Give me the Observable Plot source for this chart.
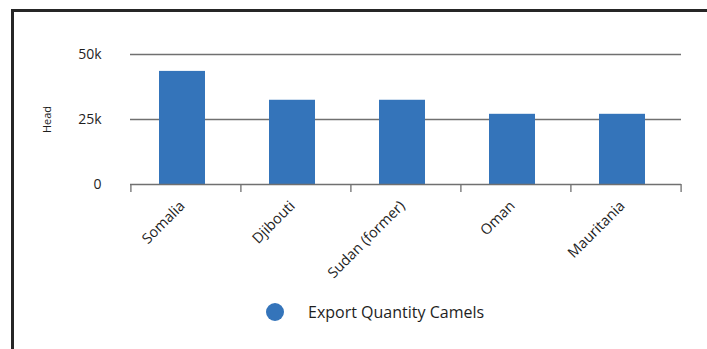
<!DOCTYPE html>
<html>
<head>
<meta charset="utf-8">
<script src="https://cdn.jsdelivr.net/npm/d3@7"></script>
<script src="https://cdn.jsdelivr.net/npm/@observablehq/plot@0.6"></script>
<style>
  html, body { margin: 0; padding: 0; background: #fff; }
  body { width: 707px; height: 349px; overflow: hidden; position: relative; font-family: "Open Sans", sans-serif; }
  #frame { position: absolute; left: 11px; top: 9px; width: 800px; height: 400px; border-left: 3px solid #262626; border-top: 3px solid #262626; box-sizing: border-box; pointer-events: none; }
  #chart { position: absolute; left: 0; top: 0; }
  #legend { position: absolute; left: 266px; top: 301px; display: flex; align-items: center; font-size: 16px; font-weight: 500; color: #1e1e1e; }
  #legend .sw { width: 18px; height: 18px; border-radius: 50%; background: #3474BA; margin-right: 24px; }
</style>
</head>
<body>
<div id="chart"></div>
<div id="legend"></div>
<div id="frame"></div>
<script>
const categories = ["Somalia", "Djibouti", "Sudan (former)", "Oman", "Mauritania"];
const values = [43500, 32400, 32400, 27000, 27000];
const yTicks = [0, 25000, 50000];
const yTickLabels = ["0", "25k", "50k"];
const seriesName = "Export Quantity Camels";
const yLabel = "Head";

const data = categories.map((c, i) => ({category: c, value: values[i]}));

const W = 707, H = 296, ML = 130, MR = 26, MT = 54, MB = 112;
const bw = (W - ML - MR) / categories.length;
const barColor = "#3474BA";
const gridColor = "#707070";

const plot = Plot.plot({
  width: W,
  height: H,
  marginLeft: ML,
  marginRight: MR,
  marginTop: MT,
  marginBottom: MB,
  style: {fontFamily: "Open Sans, sans-serif", color: "#1e1e1e", background: "transparent", fontWeight: 500},
  x: {type: "band", domain: categories, padding: 0},
  y: {domain: [0, 50000]},
  marks: [
    Plot.ruleY(yTicks.filter(d => d > 0), {stroke: gridColor, strokeWidth: 1.5}),
    Plot.barY(data, {x: "category", y: "value", fill: barColor, insetLeft: 28, insetRight: 36}),
    Plot.ruleY([0], {stroke: gridColor, strokeWidth: 1.5}),
    // category boundary tick marks (left edge of each band)
    Plot.barY(data, {x: "category", y1: 0, y2: 0, insetTop: 0, insetBottom: -8, insetLeft: -0.75, insetRight: bw - 0.75, fill: gridColor}),
    // right edge of last band
    Plot.barY(data.slice(-1), {x: "category", y1: 0, y2: 0, insetTop: 0, insetBottom: -8, insetLeft: bw - 0.75, insetRight: -0.75, fill: gridColor}),
    Plot.axisY({ticks: yTicks, tickFormat: (d) => yTickLabels[yTicks.indexOf(d)], tickSize: 0, tickPadding: 29, fontSize: 14, label: null}),
    Plot.axisX({tickSize: 0, tickPadding: 19, dx: -4, tickRotate: -45, fontSize: 14.5, label: null}),
    Plot.text([yLabel], {frameAnchor: "left", text: d => d, rotate: -90, dx: -83, fontSize: 11, fill: "#1e1e1e", textAnchor: "middle"})
  ]
});
document.getElementById("chart").appendChild(plot);

const legend = document.getElementById("legend");
const sw = document.createElement("div");
sw.className = "sw";
const lab = document.createElement("span");
lab.textContent = seriesName;
legend.appendChild(sw);
legend.appendChild(lab);
</script>
</body>
</html>
